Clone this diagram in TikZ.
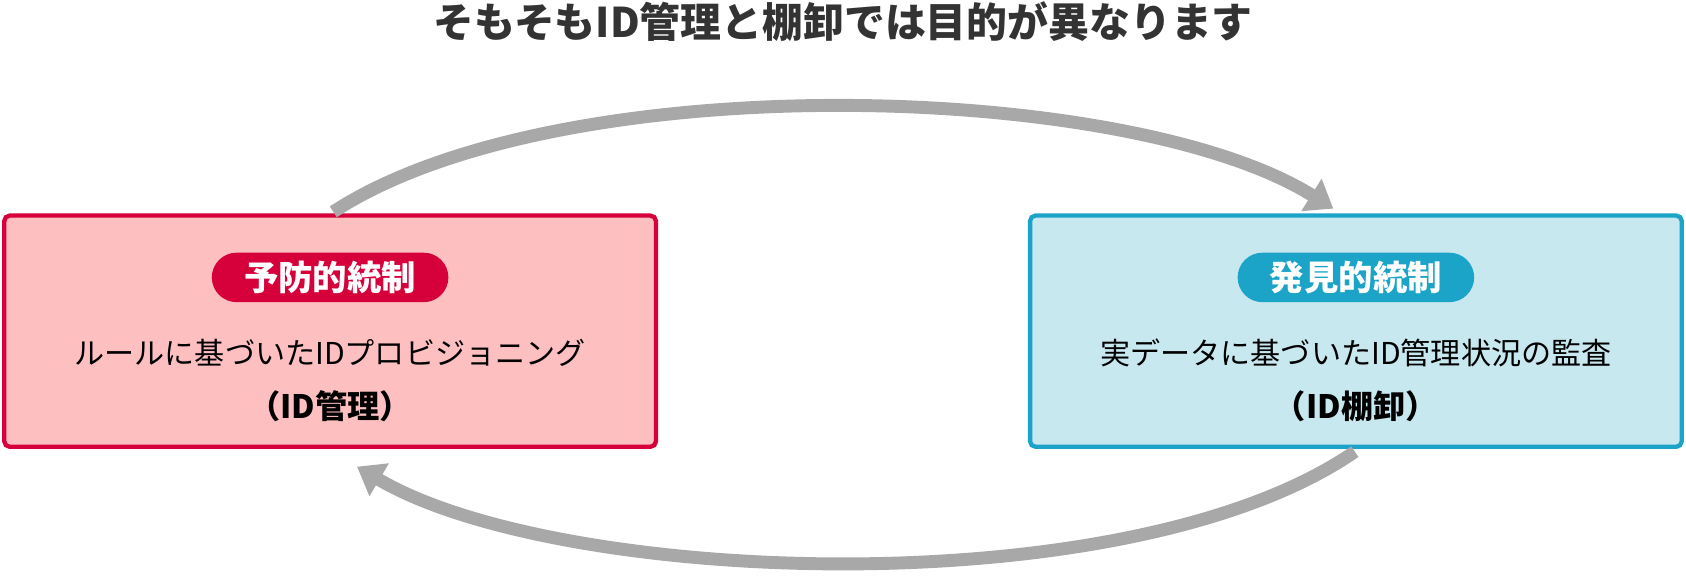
\documentclass[tikz,border=0pt]{standalone}
\usepackage{fontspec}
\setmainfont{Noto Sans CJK JP}
\usetikzlibrary{arrows.meta}
\definecolor{redb}{HTML}{D6003A}
\definecolor{redf}{HTML}{FDBFC0}
\definecolor{blueb}{HTML}{1BA3C8}
\definecolor{bluef}{HTML}{C8E8F0}
\definecolor{arr}{HTML}{A8A8A8}
\definecolor{txt}{HTML}{333333}
\tikzset{
 box/.style={draw, line width=4pt, rounded corners=5pt, minimum width=606pt, minimum height=215pt},
 pill/.style={rounded corners=23pt, minimum width=220pt, minimum height=46pt, text=white, font=\fontsize{32}{34}\selectfont\bfseries},
 body/.style={font=\fontsize{28}{30}\selectfont, text=black},
 bodyb/.style={font=\fontsize{30}{32}\selectfont\bfseries, text=black},
 flow/.style={draw=arr, line width=12pt, -{Triangle[length=24pt,width=34pt]}}
}
\begin{document}
\begin{tikzpicture}[x=1pt,y=-1pt]
\useasboundingbox (0,0) rectangle (1568,536);
\node[text=txt, font=\fontsize{38}{40}\selectfont\bfseries] (title) at (784,20) {そもそもID管理と棚卸では目的が異なります};
\node[box, draw=redb, fill=redf] (L) at (307,308) {};
\node[box, draw=blueb, fill=bluef] (R) at (1261,308) {};
\node[pill, fill=redb] (Lp) at (307,258) {予防的統制};
\node[pill, fill=blueb] (Rp) at (1261,258) {発見的統制};
\node[body] (Lt) at (307,328) {ルールに基づいたIDプロビジョニング};
\node[bodyb] (Lb) at (307,378) {（ID管理）};
\node[body] (Rt) at (1261,328) {実データに基づいたID管理状況の監査};
\node[bodyb] (Rb) at (1261,378) {（ID棚卸）};
\coordinate (a1) at (310,197);
\coordinate (a2) at (1240,194);
\coordinate (b1) at (1260,420);
\coordinate (b2) at (332,434);
\draw[flow] (a1) .. controls (520,60) and (1050,75) .. (a2);
\draw[flow] (b1) .. controls (1050,565) and (520,545) .. (b2);
\end{tikzpicture}
\end{document}
